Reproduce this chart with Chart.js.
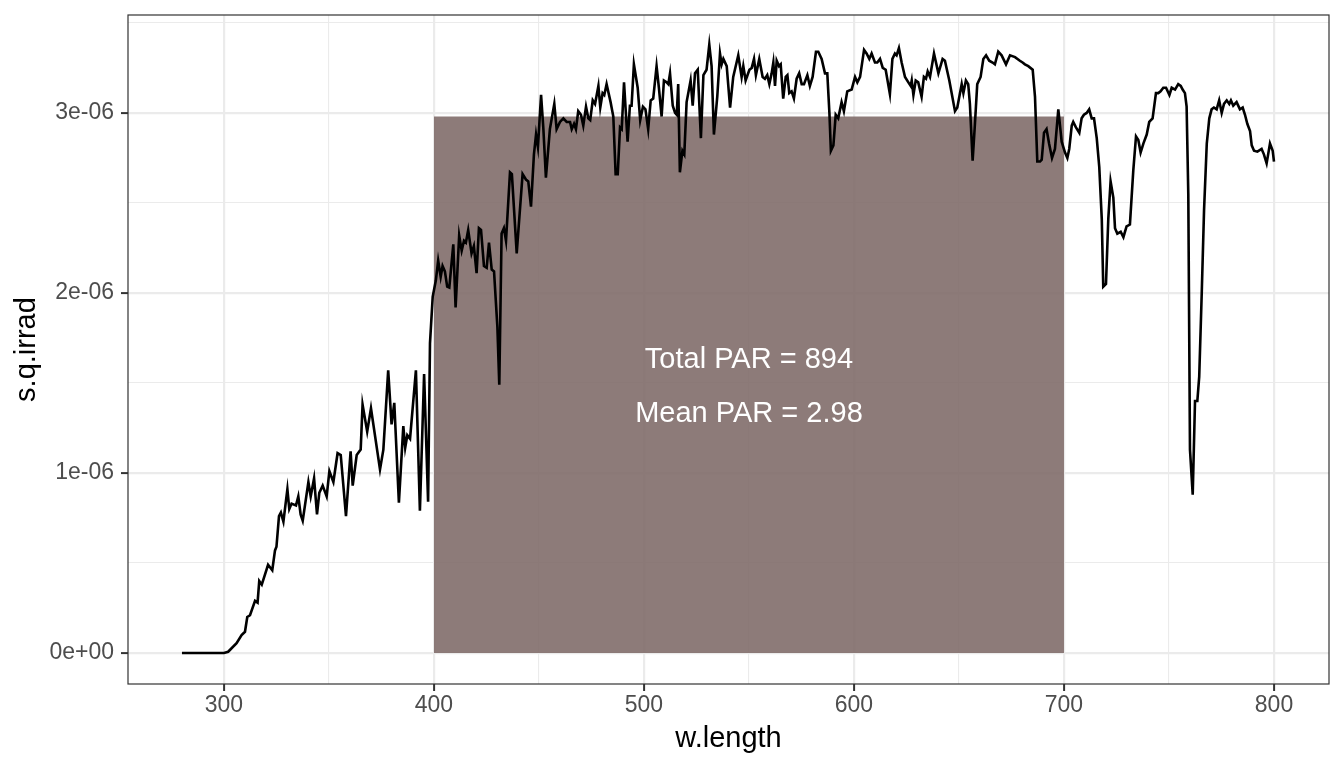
<!DOCTYPE html>
<html>
<head>
<meta charset="UTF-8">
<title>s.q.irrad</title>
<script src="https://cdn.jsdelivr.net/npm/chart.js"></script>
<style>
  html, body { margin: 0; padding: 0; background: #ffffff; }
</style>
</head>
<body>
<canvas id="chart" width="1344" height="768"></canvas>
<script>
// wavelength (nm) and s.q.irrad (in units of 1e-06)
const wLength = [
  280, 290, 300, 302, 306, 308.4, 310, 311.1, 312.4, 314.8, 316, 316.8, 318, 321, 323, 324.3, 325, 326.2, 327.1, 328.3,
  330.2, 331.1, 332.2, 334.3, 335.4, 336.5, 337.5, 340.2, 341.3, 342.9, 344.3, 345.4, 347, 348.9, 350.2, 352.1, 354.1, 355.6, 358.1, 360.3,
  361.3, 363.2, 365.1, 366, 368.2, 370, 374.3, 375.9, 378.2, 379.8, 381.1, 383.3, 385.4, 386.3, 387.3, 388.6, 391.4, 393.3, 395.3, 397.2,
  398.1, 399.4, 400.9, 402, 403.2, 404.1, 405.2, 406.3, 407.3, 409.2, 410.3, 412, 413.2, 414.3, 415.2, 416.3, 417.9, 419, 420.3, 421.4,
  422.4, 423.8, 425.1, 426.2, 427.5, 428.6, 430.2, 431.1, 432.2, 433.3, 434.3, 436.2, 437.1, 439.4, 440.6, 442.2, 443.8, 444.9, 446.2, 447.6,
  448.6, 449.5, 451, 452.1, 453.3, 455.2, 457.3, 458.4, 460, 461.6, 463.2, 464.8, 465.6, 466.7, 467.6, 468.7, 470, 471.1, 472.4, 473.5,
  474.4, 475.6, 476.7, 478.3, 479.2, 480.3, 481.1, 482.2, 484.1, 485.4, 486.5, 487.5, 488.6, 489.4, 490.5, 492.2, 493.3, 494.1, 495.2, 497,
  498.2, 499.5, 500.7, 502, 503.2, 504.4, 506, 507.1, 508.4, 509.5, 510.8, 511.6, 512.4, 513.7, 514.8, 515.6, 516.3, 517.1, 518.3, 519.2,
  520.3, 522.2, 523.2, 524.3, 525.6, 527.1, 528.3, 529.8, 531.1, 532.2, 533.3, 534.9, 536.2, 537, 537.8, 539.4, 541, 542.5, 544.9, 546.5,
  547.3, 548.4, 550.2, 551.3, 552.4, 553.3, 554.9, 556.5, 557.6, 558.7, 559.7, 560.8, 561.6, 562.4, 563.2, 564.3, 565.1, 566.3, 567.5, 568.3,
  569.2, 570.3, 571.4, 572.7, 573.9, 575.1, 576.2, 577.8, 579, 580.3, 581.9, 583, 584.6, 586.2, 587.3, 588.3, 589, 590.2, 591.3, 592.5,
  594.1, 595.2, 596.8, 598.9, 600.5, 601.6, 602.9, 604.8, 606, 607.3, 608.4, 610, 611.1, 612.4, 613.7, 615.1, 617.1, 618.3, 619.5, 620.3,
  621.4, 622.7, 624.3, 625.9, 627, 627.5, 628.3, 629.4, 630.6, 632.2, 633.3, 634.3, 635.1, 636.2, 638.1, 640.2, 642.2, 643.3, 645.4, 648.1,
  649.2, 651.3, 652.1, 653.3, 654.4, 655.2, 656.5, 657.6, 658.7, 660.3, 661.6, 662.9, 664.4, 666, 667.1, 668.7, 670.3, 672.4, 674.3, 676.7,
  679, 680.3, 681.4, 683, 685.1, 686.2, 687.3, 688.6, 689.4, 690.5, 691.7, 692.9, 694.3, 695.7, 697.3, 698.9, 700.5, 701.6, 702.5, 703.7,
  704.4, 705.7, 707.3, 708.4, 709.5, 710.8, 712, 713.2, 714.3, 715.6, 716.8, 718, 718.7, 720, 721.1, 722.2, 723.5, 724.3, 725.4, 727,
  728.3, 729.8, 731.4, 733, 734.3, 735.4, 736.5, 737.8, 739.4, 740.6, 742.2, 743.8, 744.9, 746, 747.3, 748.6, 750.2, 751.3, 752.9, 754.4,
  755.6, 756.5, 757.6, 758.4, 759.2, 760, 761.3, 762.4, 763.5, 764.4, 765.6, 766.7, 768, 769.2, 770.3, 771.4, 772.7, 773.9, 775.1, 776.2,
  777.5, 778.7, 779.5, 780.6, 782.2, 783.8, 785.1, 786.2, 787.3, 788.6, 789.4, 790.5, 792.1, 794.1, 795.2, 796.5, 798.1, 799.4, 800
];
const sqIrrad = [
  0, 0, 0, 0.007, 0.055, 0.10, 0.118, 0.20, 0.21, 0.29, 0.28, 0.40, 0.38, 0.49, 0.46, 0.57, 0.59, 0.76, 0.78, 0.73,
  0.91, 0.80, 0.83, 0.82, 0.87, 0.77, 0.735, 0.95, 0.87, 0.97, 0.77, 0.89, 0.93, 0.87, 1.01, 0.95, 1.11, 1.10, 0.76, 1.12,
  0.93, 1.10, 1.13, 1.38, 1.23, 1.36, 1.02, 1.13, 1.57, 1.27, 1.39, 0.835, 1.26, 1.14, 1.21, 1.19, 1.57, 0.79, 1.55, 0.84,
  1.72, 1.98, 2.07, 2.18, 2.09, 2.15, 2.12, 2.035, 2.03, 2.27, 1.92, 2.32, 2.235, 2.29, 2.28, 2.35, 2.22, 2.26, 2.11, 2.36,
  2.35, 2.15, 2.14, 2.28, 2.13, 2.12, 1.81, 1.49, 2.33, 2.36, 2.29, 2.67, 2.66, 2.22, 2.41, 2.66, 2.63, 2.62, 2.48, 2.77,
  2.88, 2.81, 3.10, 2.91, 2.64, 2.91, 3.05, 2.91, 2.95, 2.97, 2.95, 2.95, 2.91, 2.94, 2.91, 3.01, 2.99, 2.93, 3.035, 2.97,
  2.96, 3.07, 3.05, 3.15, 3.03, 3.11, 3.10, 3.16, 3.06, 2.98, 2.66, 2.66, 2.92, 2.91, 3.17, 2.84, 3.04, 3.04, 3.27, 3.14,
  2.96, 3.035, 3.02, 2.91, 3.07, 3.08, 3.26, 3.14, 2.98, 3.18, 3.17, 3.16, 3.22, 3.04, 3.00, 2.99, 3.16, 2.67, 2.79, 2.77,
  3.06, 3.18, 3.04, 3.22, 3.24, 2.86, 3.21, 3.24, 3.38, 3.26, 2.88, 3.09, 3.33, 3.27, 3.30, 3.26, 3.03, 3.20, 3.32, 3.20,
  3.26, 3.18, 3.24, 3.25, 3.30, 3.21, 3.30, 3.20, 3.19, 3.21, 3.16, 3.22, 3.28, 3.15, 3.29, 3.26, 3.27, 3.08, 3.20, 3.21,
  3.11, 3.12, 3.08, 3.19, 3.22, 3.16, 3.16, 3.21, 3.15, 3.20, 3.34, 3.34, 3.30, 3.22, 3.22, 3.00, 2.79, 2.82, 2.99, 2.97,
  3.06, 3.01, 3.12, 3.13, 3.20, 3.17, 3.20, 3.35, 3.33, 3.30, 3.33, 3.28, 3.28, 3.30, 3.25, 3.24, 3.105, 3.30, 3.33, 3.32,
  3.36, 3.28, 3.20, 3.17, 3.15, 3.18, 3.10, 3.18, 3.17, 3.09, 3.20, 3.19, 3.23, 3.20, 3.33, 3.22, 3.30, 3.29, 3.18, 3.01,
  3.03, 3.16, 3.11, 3.18, 3.16, 3.05, 2.735, 2.94, 3.16, 3.20, 3.30, 3.32, 3.29, 3.28, 3.27, 3.34, 3.32, 3.27, 3.32, 3.31,
  3.29, 3.28, 3.27, 3.26, 3.24, 3.09, 2.73, 2.73, 2.74, 2.89, 2.91, 2.83, 2.75, 2.80, 3.02, 2.84, 2.78, 2.75, 2.80, 2.93,
  2.95, 2.92, 2.89, 2.97, 2.99, 3.00, 3.02, 2.97, 2.97, 2.86, 2.70, 2.41, 2.035, 2.05, 2.41, 2.62, 2.53, 2.36, 2.33, 2.34,
  2.31, 2.37, 2.38, 2.68, 2.87, 2.85, 2.78, 2.83, 2.88, 2.95, 2.97, 3.11, 3.11, 3.12, 3.14, 3.14, 3.10, 3.14, 3.13, 3.16,
  3.15, 3.13, 3.11, 3.035, 2.55, 1.13, 0.88, 1.40, 1.40, 1.535, 2.0, 2.46, 2.83, 2.97, 3.02, 3.03, 3.02, 3.07, 3.00, 3.05,
  3.07, 3.05, 3.07, 3.04, 3.06, 3.02, 3.03, 2.99, 2.94, 2.90, 2.82, 2.79, 2.785, 2.80, 2.77, 2.72, 2.83, 2.79, 2.73
];

// PAR band summary
const parBand = [400, 700];
const parMean = 2.98;
const parTotal = 894;
const parLabels = ['Total PAR = ' + parTotal, 'Mean PAR = ' + parMean];

// axis ticks
const xTicks = [300, 400, 500, 600, 700, 800];
const yTicks = [0, 1, 2, 3];
const yTickLabels = ['0e+00', '1e-06', '2e-06', '3e-06'];

const FONT = '"Liberation Sans", Arial, Helvetica, sans-serif';
Chart.defaults.font.family = FONT;

const isMajorX = v => xTicks.includes(v);
const isMajorY = v => yTicks.includes(v);

const panelBorder = {
  id: 'panelBorder',
  afterDraw(chart) {
    const {ctx, chartArea: a} = chart;
    ctx.save();
    ctx.strokeStyle = '#333333';
    ctx.lineWidth = 1.2;
    ctx.strokeRect(a.left, a.top, a.right - a.left, a.bottom - a.top);
    ctx.restore();
  }
};

const parText = {
  id: 'parText',
  afterDatasetsDraw(chart) {
    const {ctx, scales: {x, y}} = chart;
    ctx.save();
    ctx.font = '29px ' + FONT;
    ctx.fillStyle = '#ffffff';
    ctx.textAlign = 'center';
    ctx.textBaseline = 'middle';
    ctx.fillText(parLabels[0], x.getPixelForValue(550), y.getPixelForValue(1.628));
    ctx.fillText(parLabels[1], x.getPixelForValue(550), y.getPixelForValue(1.328));
    ctx.restore();
  }
};

new Chart(document.getElementById('chart'), {
  type: 'line',
  data: {
    datasets: [{
      label: 's.q.irrad',
      data: wLength.map((w, i) => ({x: w, y: sqIrrad[i]})),
      borderColor: '#000000',
      borderWidth: 2.6,
      pointRadius: 0,
      fill: false,
      tension: 0
    }, {
      label: 'PAR',
      data: parBand.map(w => ({x: w, y: parMean})),
      borderWidth: 0,
      borderColor: 'rgba(0,0,0,0)',
      backgroundColor: 'rgba(129,109,106,0.9)',
      pointRadius: 0,
      fill: 'origin'
    }]
  },
  options: {
    responsive: false,
    animation: false,
    events: [],
    layout: { padding: { top: 15, right: 15, left: 0, bottom: 0 } },
    plugins: { legend: { display: false }, tooltip: { enabled: false } },
    scales: {
      x: {
        type: 'linear',
        min: 254.3,
        max: 826.2,
        afterFit: s => { s.height = 84; s.paddingLeft = 0; s.paddingRight = 0; },
        border: { display: false },
        grid: {
          color: '#EBEBEB',
          lineWidth: c => isMajorX(c.tick.value) ? 2.2 : 1.1,
          tickColor: c => isMajorX(c.tick.value) ? '#333333' : 'rgba(0,0,0,0)',
          tickLength: 7,
          tickWidth: 2
        },
        ticks: {
          stepSize: 50,
          includeBounds: false,
          autoSkip: false,
          maxRotation: 0,
          padding: 1,
          color: '#4D4D4D',
          font: { size: 23 },
          callback: v => isMajorX(v) ? String(v) : ''
        },
        title: {
          display: true,
          text: 'w.length',
          color: '#000000',
          font: { size: 29 },
          padding: { top: 0, bottom: 12 }
        }
      },
      y: {
        type: 'linear',
        min: -0.172,
        max: 3.544,
        afterFit: s => { s.width = 128; s.paddingTop = 0; s.paddingBottom = 0; },
        border: { display: false },
        grid: {
          color: '#EBEBEB',
          lineWidth: c => isMajorY(c.tick.value) ? 2.2 : 1.1,
          tickColor: c => isMajorY(c.tick.value) ? '#333333' : 'rgba(0,0,0,0)',
          tickLength: 7,
          tickWidth: 2
        },
        ticks: {
          stepSize: 0.5,
          includeBounds: false,
          autoSkip: false,
          padding: 7,
          color: '#4D4D4D',
          font: { size: 23 },
          callback: v => { const i = yTicks.indexOf(v); return i >= 0 ? yTickLabels[i] : ''; }
        },
        title: {
          display: true,
          text: 's.q.irrad',
          color: '#000000',
          font: { size: 29 },
          padding: { top: 10, bottom: 0 }
        }
      }
    }
  },
  plugins: [panelBorder, parText]
});
</script>
</body>
</html>
